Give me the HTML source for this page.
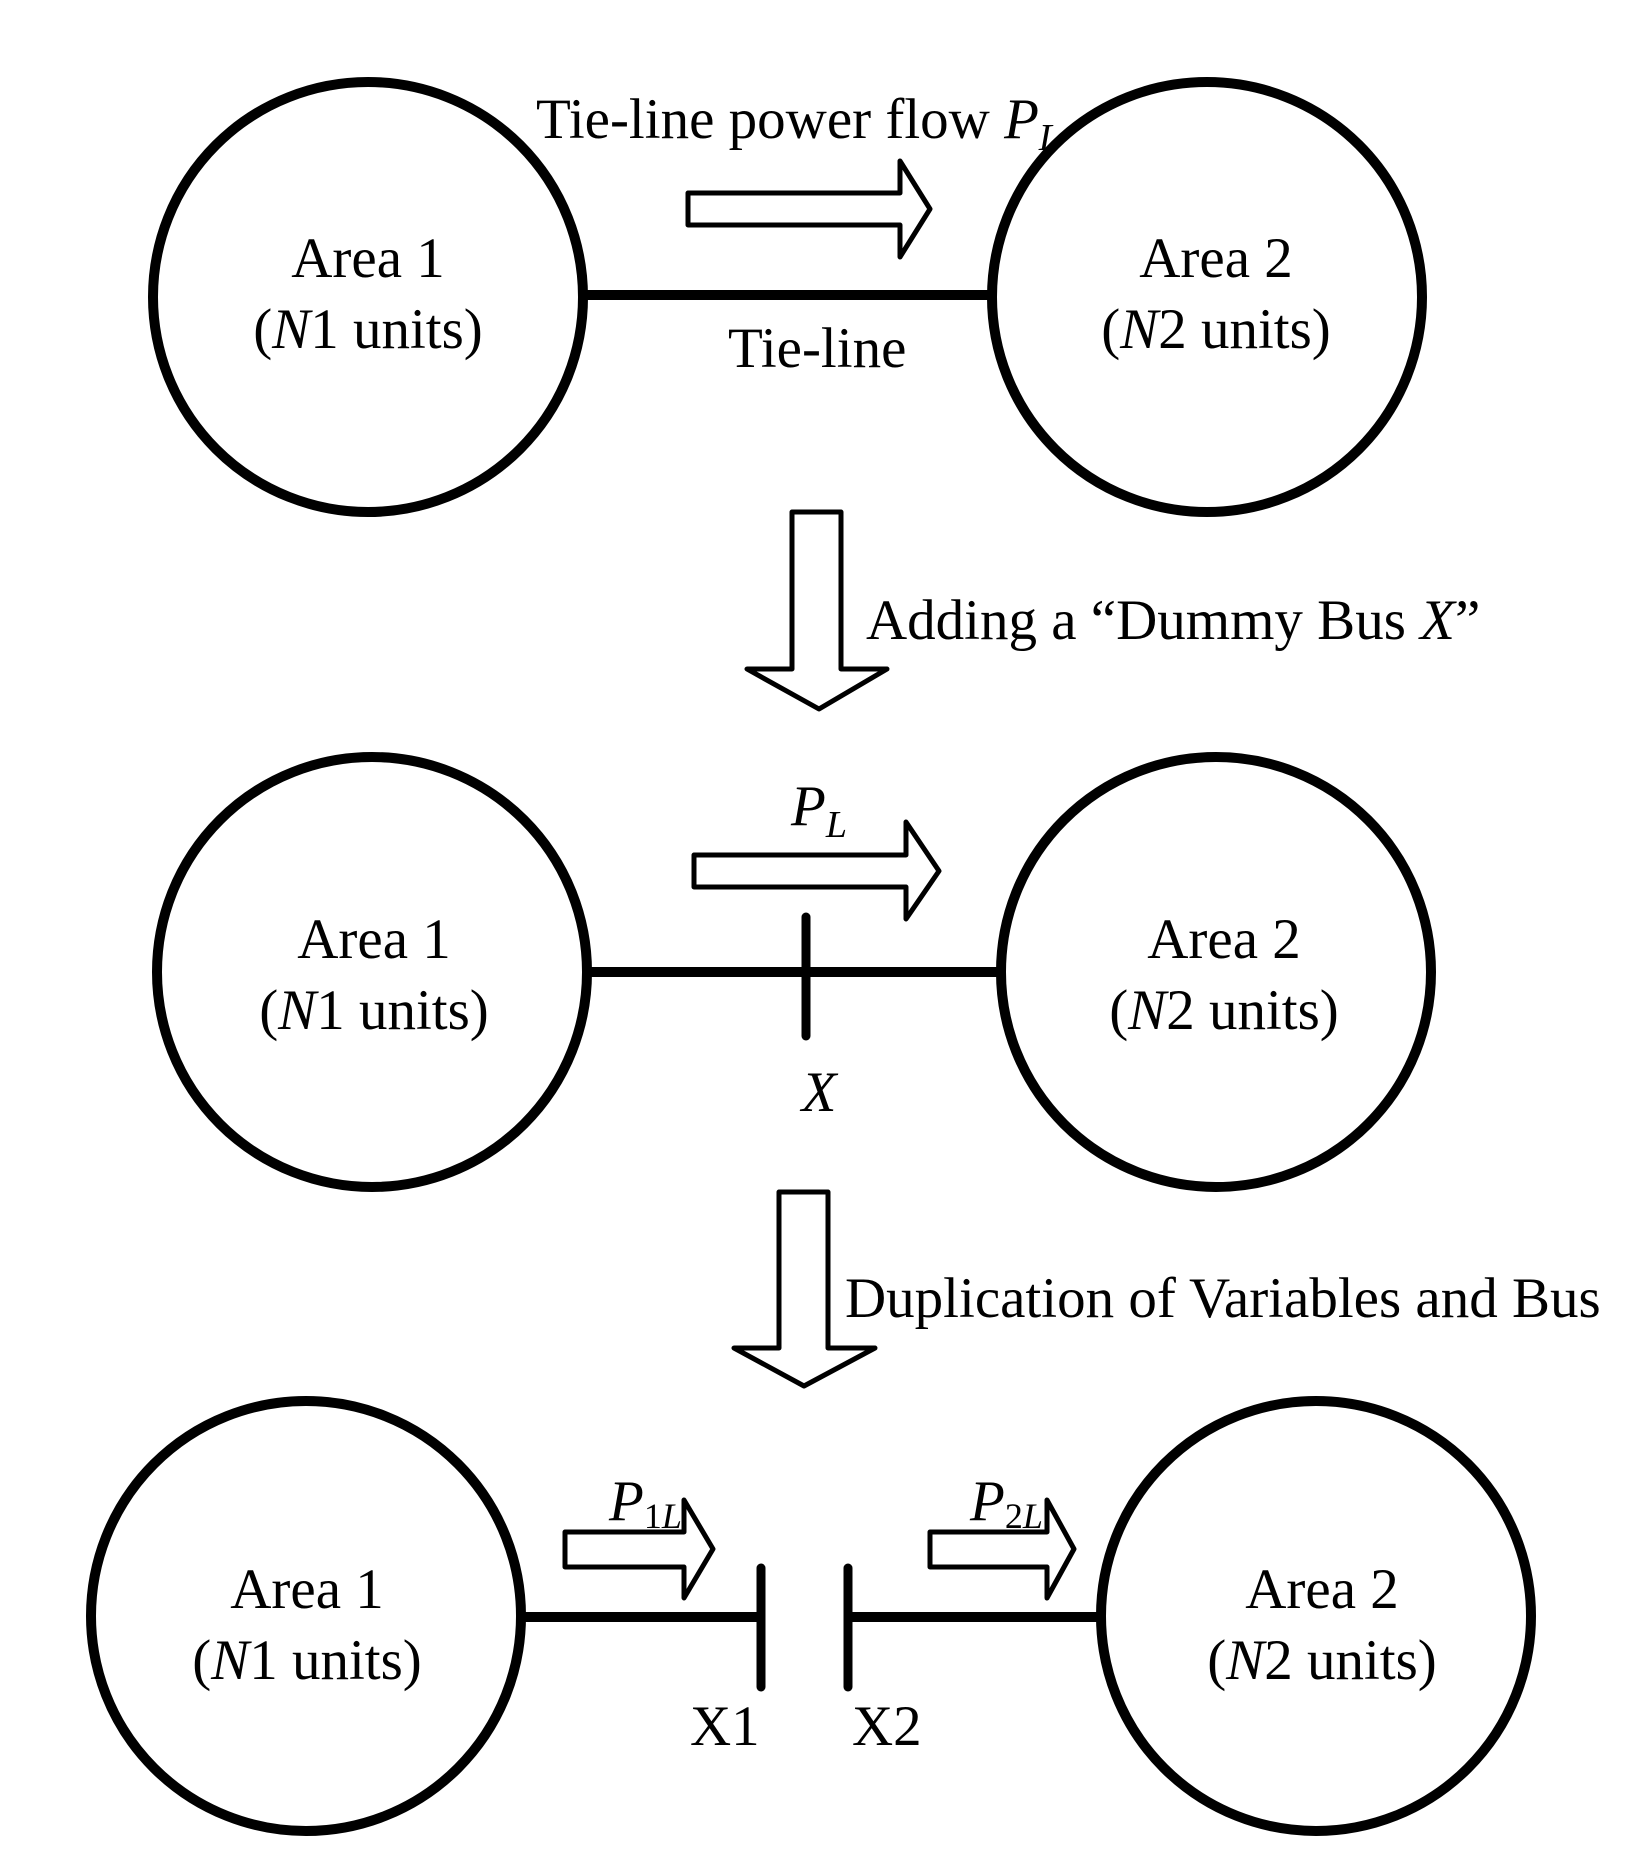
<!DOCTYPE html>
<html><head><meta charset="utf-8"><style>
html,body{margin:0;padding:0;background:#fff}
svg{display:block}
text{font-family:"Liberation Serif",serif;font-size:57px;fill:#000}
</style></head><body>
<svg width="1649" height="1854" viewBox="0 0 1649 1854" xmlns="http://www.w3.org/2000/svg">
<g fill="none" stroke="#000" stroke-width="10">
<circle cx="368" cy="297" r="215"/>
<circle cx="1207" cy="297" r="215"/>
<line x1="583" y1="295" x2="992" y2="295"/>
<circle cx="372" cy="972" r="215"/>
<circle cx="1216" cy="972" r="215"/>
<line x1="587" y1="972" x2="1001" y2="972"/>
<circle cx="306" cy="1616" r="215"/>
<circle cx="1316" cy="1616" r="215"/>
<line x1="521" y1="1617" x2="761" y2="1617"/>
<line x1="848" y1="1617" x2="1101" y2="1617"/>
</g>
<g stroke="#000" stroke-width="9" stroke-linecap="round">
<line x1="806" y1="917" x2="806" y2="1036"/>
<line x1="761" y1="1568" x2="761" y2="1687"/>
<line x1="848" y1="1568" x2="848" y2="1687"/>
</g>
<g fill="#fff" stroke="#000" stroke-width="5" stroke-linejoin="round">
<polygon points="688,193 900,193 900,161 930,209 900,257 900,225 688,225"/>
<polygon points="694,855 906,855 906,822 939,871 906,919 906,887 694,887"/>
<polygon points="565,1532 684,1532 684,1500 713,1549 684,1598 684,1567 565,1567"/>
<polygon points="930,1532 1047,1532 1047,1500 1074,1549 1047,1598 1047,1567 930,1567"/>
<polygon points="792,512 841,512 841,669 887,669 819,709 747,669 792,669"/>
<polygon points="779,1192 828,1192 828,1348 875,1348 804,1386 734,1348 779,1348"/>
</g>
<text x="536" y="138">Tie-line power flow <tspan font-style="italic">P</tspan><tspan font-style="italic" font-size="38" dy="12">L</tspan></text>
<text x="728" y="367">Tie-line</text>
<text x="368" y="277" text-anchor="middle">Area 1</text>
<text x="368" y="348" text-anchor="middle">(<tspan font-style="italic">N</tspan>1 units)</text>
<text x="1216" y="277" text-anchor="middle">Area 2</text>
<text x="1216" y="348" text-anchor="middle">(<tspan font-style="italic">N</tspan>2 units)</text>
<text x="866" y="639">Adding a “Dummy Bus <tspan font-style="italic">X</tspan>”</text>
<text x="791" y="825" font-style="italic">P<tspan font-size="38" dy="12">L</tspan></text>
<text x="374" y="958" text-anchor="middle">Area 1</text>
<text x="374" y="1029" text-anchor="middle">(<tspan font-style="italic">N</tspan>1 units)</text>
<text x="1224" y="958" text-anchor="middle">Area 2</text>
<text x="1224" y="1029" text-anchor="middle">(<tspan font-style="italic">N</tspan>2 units)</text>
<text x="819" y="1111" text-anchor="middle" font-style="italic">X</text>
<text x="845" y="1317" font-size="58.5">Duplication of Variables and Bus</text>
<text x="609" y="1520" font-style="italic">P<tspan font-size="36" dy="8" font-style="normal">1</tspan><tspan font-size="36">L</tspan></text>
<text x="970" y="1520" font-style="italic">P<tspan font-size="36" dy="8" font-style="normal">2</tspan><tspan font-size="36">L</tspan></text>
<text x="307" y="1608" text-anchor="middle">Area 1</text>
<text x="307" y="1679" text-anchor="middle">(<tspan font-style="italic">N</tspan>1 units)</text>
<text x="1322" y="1608" text-anchor="middle">Area 2</text>
<text x="1322" y="1679" text-anchor="middle">(<tspan font-style="italic">N</tspan>2 units)</text>
<text x="690" y="1745">X1</text>
<text x="852" y="1745">X2</text>
</svg>
</body></html>
